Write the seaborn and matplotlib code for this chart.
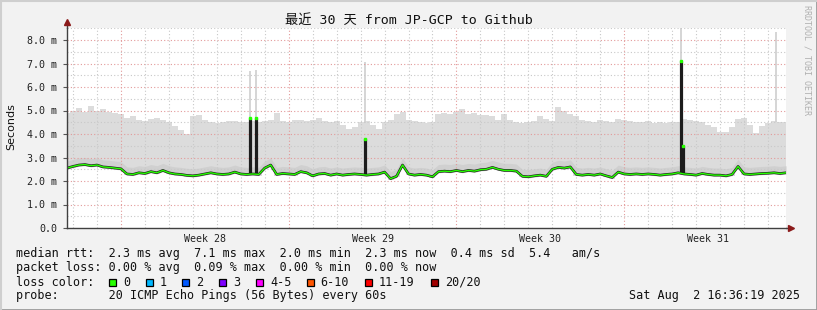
import numpy as np
import pandas as pd
import matplotlib
matplotlib.use("Agg")
import matplotlib.pyplot as plt
import matplotlib.patches as mpatches
import seaborn as sns

# ---------------- data ----------------
days = [i * 0.25 for i in range(121)]  # 30 days, 6-hour steps
median_ms = [
    2.55, 2.62, 2.68, 2.70, 2.65, 2.68, 2.60, 2.58, 2.55, 2.52,
    2.30, 2.28, 2.35, 2.32, 2.40, 2.35, 2.45, 2.35, 2.30, 2.28,
    2.24, 2.22, 2.25, 2.30, 2.35, 2.30, 2.28, 2.30, 2.38, 2.30,
    2.28, 2.30, 2.28, 2.55, 2.68, 2.28, 2.32, 2.30, 2.28, 2.40,
    2.35, 2.22, 2.30, 2.32, 2.25, 2.30, 2.25, 2.28, 2.30, 2.28,
    2.25, 2.28, 2.30, 2.38, 2.10, 2.20, 2.68, 2.30, 2.25, 2.28,
    2.25, 2.18, 2.40, 2.42, 2.40, 2.45, 2.40, 2.45, 2.42, 2.48,
    2.50, 2.58, 2.50, 2.45, 2.45, 2.42, 2.20, 2.18, 2.22, 2.25,
    2.20, 2.50, 2.58, 2.55, 2.60, 2.28, 2.25, 2.28, 2.25, 2.30,
    2.22, 2.15, 2.38, 2.30, 2.28, 2.30, 2.28, 2.30, 2.28, 2.25,
    2.28, 2.30, 2.35, 2.30, 2.28, 2.25, 2.32, 2.28, 2.25, 2.25,
    2.22, 2.28, 2.62, 2.30, 2.28, 2.30, 2.32, 2.33, 2.35, 2.32,
    2.35,
]
smoke_top_ms = [
    4.90, 5.00, 5.10, 4.95, 5.20, 5.00, 5.05, 4.95, 4.90, 4.85,
    4.70, 4.75, 4.60, 4.55, 4.65, 4.70, 4.60, 4.50, 4.35, 4.15,
    4.00, 4.75, 4.80, 4.60, 4.50, 4.45, 4.50, 4.55, 4.55, 4.50,
    4.50, 4.55, 4.50, 4.55, 4.60, 4.90, 4.55, 4.50, 4.60, 4.60,
    4.55, 4.60, 4.70, 4.55, 4.50, 4.55, 4.40, 4.20, 4.30, 4.50,
    4.55, 4.40, 4.20, 4.50, 4.60, 4.85, 4.95, 4.60, 4.55, 4.50,
    4.45, 4.50, 4.85, 4.90, 4.85, 4.95, 5.05, 4.85, 4.90, 4.80,
    4.80, 4.75, 4.60, 4.85, 4.60, 4.50, 4.45, 4.50, 4.55, 4.75,
    4.65, 4.55, 5.15, 5.00, 4.85, 4.75, 4.60, 4.55, 4.50, 4.60,
    4.55, 4.50, 4.65, 4.60, 4.55, 4.50, 4.50, 4.55, 4.45, 4.50,
    4.45, 4.50, 4.50, 4.65, 4.60, 4.55, 4.50, 4.40, 4.30, 4.10,
    4.10, 4.30, 4.65, 4.70, 4.40, 4.05, 4.35, 4.45, 4.55, 4.50,
    4.50,
]
# median spikes (black bars)
spike_day = [7.63, 7.88, 12.43, 25.62, 25.70]
spike_base = [2.30, 2.30, 2.30, 2.35, 2.35]
spike_top = [4.68, 4.70, 3.78, 7.10, 3.50]
# max-ping spikes (light smoke lines)
gspike_day = [7.63, 7.88, 12.43, 25.62, 29.60]
gspike_base = [4.55, 4.55, 4.45, 4.60, 4.50]
gspike_top = [6.70, 6.72, 7.05, 8.50, 8.35]

ytick_vals = [0, 1, 2, 3, 4, 5, 6, 7, 8]
ytick_labels = ["0.0", "1.0 m", "2.0 m", "3.0 m", "4.0 m", "5.0 m", "6.0 m", "7.0 m", "8.0 m"]
week_pos = [5.75, 12.75, 19.75, 26.75]
week_labels = ["Week 28", "Week 29", "Week 30", "Week 31"]
day_lines = [0.25 + k for k in range(30)]
week_lines = [2.25, 9.25, 16.25, 23.25]

title = "最近 30 天 from JP-GCP to Github"
legend_line1 = "median rtt:  2.3 ms avg  7.1 ms max  2.0 ms min  2.3 ms now  0.4 ms sd  5.4   am/s"
legend_line2 = "packet loss: 0.00 % avg  0.09 % max  0.00 % min  0.00 % now"
loss_labels = ["0", "1", "2", "3", "4-5", "6-10", "11-19", "20/20"]
loss_colors = ["#26ff00", "#00b8ff", "#0059ff", "#7e00ff", "#ff00ff", "#ff5500", "#ff0000", "#a10000"]
probe_line = "probe:       20 ICMP Echo Pings (56 Bytes) every 60s"
date_text = "Sat Aug  2 16:36:19 2025"

# ---------------- drawing ----------------
sns.set_theme(style="white")
plt.rcParams["font.family"] = ["DejaVu Sans Mono", "Noto Sans CJK SC"]

W, H = 817, 310
fig = plt.figure(figsize=(W / 100, H / 100), dpi=100, facecolor="#f2f2f2")
X0, X1, Ytop, Ybot = 67, 786, 27.5, 228
ax = fig.add_axes([X0 / W, 1 - Ybot / H, (X1 - X0) / W, (Ybot - Ytop) / H])
ax.set_facecolor("white")

df = pd.DataFrame({"day": days, "median": median_ms, "top": smoke_top_ms})
med = np.array(median_ms)

# smoke
ax.fill_between(df["day"], med - 0.05, df["top"], step="mid", color="#dcdcdc", lw=0, zorder=1)
ax.fill_between(df["day"], med - 0.05, med + 0.3, color="#d0d0d0", lw=0, zorder=1.2)
ax.vlines(gspike_day, gspike_base, gspike_top, color="#d2d2d2", lw=1.3, zorder=1.3)

# grid (drawn over smoke like rrdtool)
minor_c, major_c = "#c8c8c8", "#e39a9a"
dots = (0, (1, 2))
for v in np.arange(0.5, 8.6, 1.0):
    ax.axhline(v, color=minor_c, lw=0.8, ls=dots, zorder=2)
for v in ytick_vals[1:]:
    ax.axhline(v, color=major_c, lw=0.8, ls=dots, zorder=2)
for d in day_lines:
    if d not in week_lines:
        ax.axvline(d, color=minor_c, lw=0.8, ls=dots, zorder=2)
for d in week_lines:
    ax.axvline(d, color=major_c, lw=0.8, ls=dots, zorder=2)

# median line and spikes
ax.vlines(spike_day, spike_base, spike_top, color="#1c1c1c", lw=2.3, zorder=3)
sns.lineplot(data=df, x="day", y="median", ax=ax, color="#1c1c1c", lw=1.9, zorder=3)
sns.lineplot(data=df, x="day", y="median", ax=ax, color="#26ff00", lw=1.0, zorder=4)
ax.plot(spike_day, spike_top, ls="none", marker="s", ms=1.6, color="#26ff00", zorder=5)

ax.set_xlim(0, 30)
ax.set_ylim(0, (Ybot - Ytop) / 23.5)
ax.set_xlabel("")
ax.set_ylabel("")
ax.set_yticks(ytick_vals)
ax.set_yticklabels(ytick_labels, fontsize=7.2, color="#222222")
ax.set_xticks(week_pos)
ax.set_xticklabels(week_labels, fontsize=7.2, color="#222222")
ax.tick_params(axis="x", length=0, pad=4)
ax.tick_params(axis="y", length=3, width=0.8, color="#555555", pad=4, direction="out", left=True)
for s in ["top", "right"]:
    ax.spines[s].set_visible(False)
for s in ["left", "bottom"]:
    ax.spines[s].set_color("#404040")
    ax.spines[s].set_linewidth(1.0)
    ax.spines[s].set_zorder(6)

# axis extensions and arrows
ax.plot([0, 0], [1, 1 + 5.5 / (Ybot - Ytop)], transform=ax.transAxes, color="#404040", lw=1.0, clip_on=False)
ax.plot([1, 1 + 4 / (X1 - X0)], [0, 0], transform=ax.transAxes, color="#404040", lw=1.0, clip_on=False)
ax.plot([0], [1 + 5.5 / (Ybot - Ytop)], transform=ax.transAxes, marker="^", ms=4.5, color="#8b1a1a", clip_on=False)
ax.plot([1 + 5 / (X1 - X0)], [0], transform=ax.transAxes, marker=">", ms=4.5, color="#8b1a1a", clip_on=False)

def fx(x):
    return x / W

def fy(y):
    return 1 - y / H

fig.text(fx(408.5), fy(20), title, ha="center", va="center", fontsize=9.5, color="#111111")
fig.text(fx(11), fy(127), "Seconds", rotation=90, ha="center", va="center", fontsize=8,
         family="DejaVu Sans", color="#111111")
fig.text(fx(807), fy(60), "RRDTOOL / TOBI OETIKER", rotation=270, ha="center", va="center",
         fontsize=6, color="#b0b0b0")

fs = 8.5
fig.text(fx(16), fy(254), legend_line1, ha="left", va="center", fontsize=fs, color="#111111")
fig.text(fx(16), fy(268), legend_line2, ha="left", va="center", fontsize=fs, color="#111111")
fig.text(fx(16), fy(282), "loss color:", ha="left", va="center", fontsize=fs, color="#111111")
sq_x = [109, 145.7, 182.3, 219, 256.3, 306.7, 365, 430.7]
for xs, lab, col in zip(sq_x, loss_labels, loss_colors):
    fig.add_artist(mpatches.Rectangle((fx(xs), fy(285.5)), 7 / W, 7 / H, transform=fig.transFigure,
                                      facecolor=col, edgecolor="black", lw=0.9))
    fig.text(fx(xs + 14), fy(282), lab, ha="left", va="center", fontsize=fs, color="#111111")
fig.text(fx(16), fy(296), probe_line, ha="left", va="center", fontsize=fs, color="#111111")
fig.text(fx(800), fy(296), date_text, ha="right", va="center", fontsize=fs, color="#111111")

# frame
fig.add_artist(plt.Line2D([0, 1], [0.5 / H, 0.5 / H], transform=fig.transFigure, color="#9a9a9a", lw=2))
fig.add_artist(plt.Line2D([1 - 0.5 / W, 1 - 0.5 / W], [0, 1], transform=fig.transFigure, color="#9a9a9a", lw=2))
fig.add_artist(plt.Line2D([0, 1], [1 - 0.5 / H, 1 - 0.5 / H], transform=fig.transFigure, color="#cfcfcf", lw=1.5))
fig.add_artist(plt.Line2D([0.5 / W, 0.5 / W], [0, 1], transform=fig.transFigure, color="#cfcfcf", lw=1.5))

fig.savefig("out.png", dpi=100, facecolor=fig.get_facecolor())
